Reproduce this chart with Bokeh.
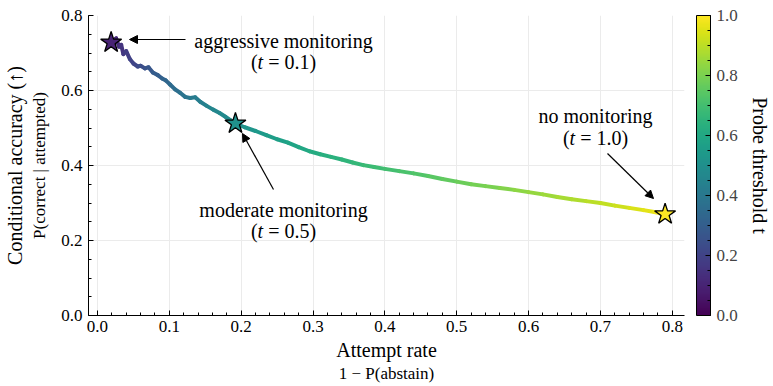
import numpy as np
from bokeh.plotting import figure
from bokeh.models import (ColumnDataSource, Range1d, LinearColorMapper, ColorBar, FixedTicker,
                          NumeralTickFormatter, Label, Arrow, NormalHead, LinearAxis)
from bokeh.palettes import Viridis256
from bokeh.transform import transform
from bokeh.embed import file_html
from bokeh.resources import INLINE

# ---------------- data ----------------
attempt_rate = [0.019, 0.026, 0.030, 0.033, 0.036, 0.040, 0.045, 0.050, 0.056, 0.060,
                0.066, 0.071, 0.077, 0.084, 0.090, 0.095, 0.101, 0.108, 0.115, 0.122,
                0.129, 0.136, 0.143, 0.152, 0.161, 0.170, 0.178, 0.185, 0.192,
                0.205, 0.220, 0.235, 0.250, 0.265, 0.280, 0.295, 0.310, 0.325, 0.340,
                0.355, 0.370, 0.385, 0.400, 0.420, 0.440, 0.460, 0.480, 0.500, 0.520,
                0.540, 0.560, 0.580, 0.600, 0.620, 0.640, 0.660, 0.680, 0.700, 0.720,
                0.740, 0.760, 0.775, 0.790]
cond_accuracy = [0.728, 0.739, 0.717, 0.722, 0.697, 0.705, 0.684, 0.672, 0.664, 0.666,
                 0.659, 0.662, 0.648, 0.641, 0.632, 0.627, 0.616, 0.603, 0.594, 0.583,
                 0.580, 0.582, 0.570, 0.559, 0.549, 0.540, 0.530, 0.521, 0.512,
                 0.502, 0.492, 0.481, 0.470, 0.461, 0.449, 0.438, 0.430, 0.423, 0.416,
                 0.408, 0.401, 0.396, 0.391, 0.385, 0.379, 0.372, 0.364, 0.357, 0.350,
                 0.345, 0.340, 0.335, 0.329, 0.323, 0.316, 0.310, 0.305, 0.300, 0.293,
                 0.287, 0.281, 0.276, 0.270]
threshold = [0.10, 0.12, 0.14, 0.15, 0.17, 0.18, 0.20, 0.21, 0.23, 0.24,
             0.26, 0.27, 0.29, 0.30, 0.32, 0.33, 0.35, 0.36, 0.38, 0.39,
             0.41, 0.42, 0.43, 0.45, 0.46, 0.47, 0.48, 0.49, 0.50,
             0.52, 0.54, 0.555, 0.57, 0.585, 0.60, 0.615, 0.63, 0.64, 0.655,
             0.665, 0.68, 0.69, 0.70, 0.715, 0.73, 0.745, 0.76, 0.775, 0.79,
             0.80, 0.815, 0.83, 0.84, 0.855, 0.87, 0.88, 0.895, 0.91, 0.925,
             0.945, 0.96, 0.98, 1.00]

marked_t = [0.1, 0.5, 1.0]
marked_names = ["aggressive monitoring", "moderate monitoring", "no monitoring"]
x_ticks = [0.0, 0.1, 0.2, 0.3, 0.4, 0.5, 0.6, 0.7, 0.8]
y_ticks = [0.0, 0.2, 0.4, 0.6, 0.8]
cbar_ticks = [0.0, 0.2, 0.4, 0.6, 0.8, 1.0]

# ---------------- layout constants ----------------
FONT = "Liberation Serif"
CW, CH = 773, 386
X0, X1 = -0.0125, 0.817
Y0, Y1 = 0.0, 0.8
FL, FR, FT, FB = 88, 684, 15, 315   # frame edges in canvas pixels


def dx(px):
    return X0 + (px - FL) / (FR - FL) * (X1 - X0)


def dy(py):
    return Y1 - (py - FT) / (FB - FT) * (Y1 - Y0)


W = {'a': .444, 'b': .5, 'c': .444, 'd': .5, 'e': .444, 'f': .333, 'g': .5, 'h': .5, 'i': .278,
     'l': .278, 'm': .778, 'n': .5, 'o': .5, 'p': .5, 'r': .333, 's': .389, 't': .278, 'u': .5,
     'v': .5, 'y': .5, 'P': .611, ' ': .25, '(': .333, ')': .333, '=': .564, '.': .25, '|': .2,
     '−': .564}


def tw(s, size):
    return sum(W.get(c, .5) for c in s) * size


p = figure(width=CW, height=CH, output_backend="svg", toolbar_location=None,
           x_range=Range1d(X0, X1), y_range=Range1d(Y0, Y1),
           min_border_left=FL, min_border_top=FT, min_border_bottom=CH - FB,
           min_border_right=CW - FR)
p.outline_line_color = None
p.background_fill_color = "white"

# grid
p.grid.grid_line_color = "#ebebeb"
p.grid.grid_line_width = 1

# axes
minor_x = [round(v, 2) for v in np.arange(0.0, 0.801, 0.02)]
minor_y = [round(v, 2) for v in np.arange(0.0, 0.801, 0.05)]
p.xaxis.ticker = FixedTicker(ticks=x_ticks, minor_ticks=minor_x)
p.yaxis.ticker = FixedTicker(ticks=y_ticks, minor_ticks=minor_y)
p.xaxis.formatter = NumeralTickFormatter(format="0.0")
p.yaxis.formatter = NumeralTickFormatter(format="0.0")
for ax in (p.xaxis[0], p.yaxis[0]):
    ax.axis_line_color = "black"
    ax.major_tick_in = 5
    ax.major_tick_out = 0
    ax.minor_tick_in = 3
    ax.minor_tick_out = 0
    ax.major_tick_line_color = "black"
    ax.minor_tick_line_color = "black"
    ax.major_label_text_font = FONT
    ax.major_label_text_font_size = "17px"
    ax.major_label_text_color = "black"
    ax.axis_label_text_font = FONT
    ax.axis_label_text_font_style = "normal"
    ax.axis_label_text_color = "black"

# inner labels (sub-labels) on the default axes
p.xaxis.axis_label = "Attempt rate"
p.xaxis.axis_label_text_font_size = "20px"
p.xaxis.major_label_standoff = 5
p.xaxis.axis_label_standoff = 4

p.yaxis.axis_label = "P(correct | attempted)"
p.yaxis.axis_label_text_font_size = "17px"
p.yaxis.major_label_standoff = 6
p.yaxis.axis_label_standoff = 9


def label_axis(text, size, standoff):
    ax = LinearAxis(ticker=FixedTicker(ticks=[]), axis_label=text, axis_line_color=None,
                    major_tick_out=0, major_tick_in=0, minor_tick_out=0, minor_tick_in=0,
                    major_label_standoff=0, axis_label_standoff=standoff,
                    axis_label_text_font=FONT, axis_label_text_font_size=size,
                    axis_label_text_font_style="normal", axis_label_text_color="black")
    return ax


p.add_layout(label_axis("1 − P(abstain)", "17px", 0), "below")
p.add_layout(label_axis("Conditional accuracy (↑)", "20px", 2), "left")

mapper = LinearColorMapper(palette=Viridis256, low=0.0, high=1.0)

# coloured curve as segments
seg = ColumnDataSource(dict(x0=attempt_rate[:-1], y0=cond_accuracy[:-1],
                            x1=attempt_rate[1:], y1=cond_accuracy[1:], t=threshold[:-1]))
p.segment('x0', 'y0', 'x1', 'y1', source=seg, line_color=transform('t', mapper),
          line_width=4, line_cap="round")

# stars
idx = [threshold.index(t) for t in marked_t]
stars = ColumnDataSource(dict(x=[attempt_rate[i] for i in idx], y=[cond_accuracy[i] for i in idx],
                              t=[threshold[i] for i in idx]))
p.scatter('x', 'y', source=stars, marker="star", size=22, fill_color=transform('t', mapper),
          line_color="black", line_width=1.3)


def add_label(text, px, py, size="20px", style="normal", align="center"):
    p.add_layout(Label(x=dx(px), y=dy(py), text=text, text_font=FONT, text_font_size=size,
                       text_font_style=style, text_align=align, text_baseline="middle",
                       text_color="black"))


def add_tlabel(tval, cx, py, size=20):
    parts = [("(", "normal"), ("t", "italic"), (" = %.1f)" % tval, "normal")]
    total = sum(tw(s, size) for s, _ in parts)
    x = cx - total / 2
    for s, st in parts:
        lead = len(s) - len(s.lstrip(" "))
        add_label(s.lstrip(" "), x + tw(" " * lead, size), py, size="%dpx" % size, style=st,
                  align="left")
        x += tw(s, size)


# annotations: (text centre x, line1 y, line2 y, arrow tail, arrow head)
ann = [
    (283, 40, 61, (185, 39), (129, 39)),
    (283, 209, 230, (273, 189), (242, 133)),
    (595, 115, 137, (607, 153), (653, 198)),
]
for name, tval, (cx, y1, y2, tail, head) in zip(marked_names, marked_t, ann):
    add_label(name, cx, y1)
    add_tlabel(tval, cx, y2)
    p.add_layout(Arrow(end=NormalHead(size=8, fill_color="black", line_color="black", line_width=1),
                       x_start=dx(tail[0]), y_start=dy(tail[1]), x_end=dx(head[0]), y_end=dy(head[1]),
                       line_color="black", line_width=1.2))

# colour bar
cb = ColorBar(color_mapper=mapper,
              ticker=FixedTicker(ticks=cbar_ticks,
                                 minor_ticks=[round(v, 2) for v in np.arange(0, 1.001, 0.05)]),
              formatter=NumeralTickFormatter(format="0.0"),
              width=14, height=FB - FT, padding=0, margin=0, location=(12, 0), label_standoff=6,
              major_label_text_font=FONT, major_label_text_font_size="17px",
              major_tick_in=5, major_tick_out=0, minor_tick_in=3, minor_tick_out=0,
              major_tick_line_color="black", minor_tick_line_color="black",
              bar_line_color="black", border_line_color=None, background_fill_color=None)
p.add_layout(cb, "right")
p.add_layout(label_axis("Probe threshold t", "20px", 8), "right")

open("out.html", "w").write(file_html(p, INLINE))
